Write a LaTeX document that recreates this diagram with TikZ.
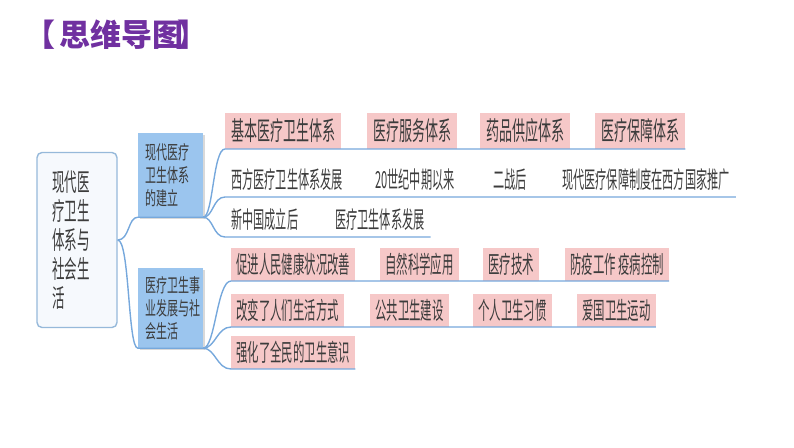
\documentclass[tikz,border=0pt]{standalone}
\usepackage{fontspec}
\newfontfamily\cjkR[FakeStretch=0.50]{Noto Sans CJK SC}
\newfontfamily\cjkP[FakeStretch=0.50]{Noto Sans CJK SC}
\newfontfamily\cjkN[FakeStretch=0.475]{Noto Sans CJK SC}
\newfontfamily\cjkL[FakeStretch=0.58]{Noto Sans CJK SC}
\newfontfamily\cjkT{Noto Sans CJK SC}
\definecolor{titlepurple}{RGB}{112,48,160}
\definecolor{txt}{RGB}{60,60,60}
\definecolor{pinkfill}{RGB}{246,200,200}
\definecolor{lvlfill}{RGB}{155,197,238}
\definecolor{rootfill}{RGB}{246,249,253}
\definecolor{rootdraw}{RGB}{150,185,218}
\definecolor{connc}{RGB}{118,168,220}
\tikzset{
  rootbox/.style={draw=rootdraw, line width=1.4pt, fill=rootfill, rounded corners=5pt,
    minimum width=80pt, minimum height=175pt, text width=50pt, align=left, inner sep=0pt,
    text=txt, font=\cjkR\fontsize{25}{29}\selectfont},
  lvlbox/.style={fill=lvlfill, minimum width=65pt, text width=50pt, align=left, inner sep=0pt,
    text=txt, font=\cjkL\fontsize{19}{23}\selectfont},
  pinkbig/.style={fill=pinkfill, anchor=south west, inner xsep=6pt, inner ysep=0pt, minimum height=36pt,
    text=txt, font=\cjkP\fontsize{26}{26}\selectfont},
  pinksmall/.style={fill=pinkfill, anchor=south west, inner xsep=5pt, inner ysep=0pt, minimum height=33pt,
    text=txt, font=\cjkN\fontsize{24}{24}\selectfont},
  plainitem/.style={anchor=south west, inner xsep=6pt, inner ysep=0pt, minimum height=34pt,
    text=txt, font=\cjkN\fontsize{23.5}{24}\selectfont},
  conn/.style={draw=connc, line width=1.4pt},
}
\begin{document}
\begin{tikzpicture}[x=1pt,y=-1pt]
\useasboundingbox (0,0) rectangle (794,447);
% title
\node[anchor=west, inner sep=0pt, text=titlepurple, font=\cjkT\bfseries\fontsize{31}{31}\selectfont] (title) at (24,35) {【\kern4pt思维导图\kern-6pt】};
% root
\node[rootbox] (root) at (77,240) {现代医\\疗卫生\\体系与\\社会生\\活};
% level 1 boxes
\fill[black!15] (139.5,134.5) rectangle (204.5,218.5);
\fill[black!15] (139.5,269.5) rectangle (204.5,349.5);
\node[lvlbox, minimum height=84pt] (b1) at (170.5,175) {现代医疗\\卫生体系\\的建立};
\node[lvlbox, minimum height=80pt] (b2) at (170.5,308) {医疗卫生事\\业发展与社\\会生活};
% row 1
\node[pinkbig] (r11) at (225,149) {基本医疗卫生体系};
\node[pinkbig] (r12) at (367,149) {医疗服务体系};
\node[pinkbig] (r13) at (480,149) {药品供应体系};
\node[pinkbig] (r14) at (595,149) {医疗保障体系};
% row 2
\node[plainitem] (r21) at (225,197) {西方医疗卫生体系发展};
\node[plainitem] (r22) at (369,197) {20世纪中期以来};
\node[plainitem] (r23) at (487,197) {二战后};
\node[plainitem] (r24) at (556,197) {现代医疗保障制度在西方国家推广};
% row 3
\node[plainitem] (r31) at (225,237) {新中国成立后};
\node[plainitem] (r32) at (329,237) {医疗卫生体系发展};
% row A
\node[pinksmall] (a1) at (231,281) {促进人民健康状况改善};
\node[pinksmall] (a2) at (380,281) {自然科学应用};
\node[pinksmall] (a3) at (483,281) {医疗技术};
\node[pinksmall] (a4) at (565,281) {防疫工作\ 疫病控制};
% row B
\node[pinksmall] (c1) at (231,327) {改变了人们生活方式};
\node[pinksmall] (c2) at (370,327) {公共卫生建设};
\node[pinksmall] (c3) at (473,327) {个人卫生习惯};
\node[pinksmall] (c4) at (577,327) {爱国卫生运动};
% row C
\node[pinksmall] (d1) at (231,369) {强化了全民的卫生意识};
% connectors
\draw[conn] (root.east) .. controls +(12,0) and +(-10,0) .. (b1.south west) -- (b1.south east);
\draw[conn] (root.east) .. controls +(12,0) and +(-10,0) .. (b2.south west) -- (b2.south east);
\draw[conn] (b1.south east) .. controls +(10,0) and +(-12,0) .. (r11.south west) -- (r14.south east);
\draw[conn] (b1.south east) .. controls +(10,0) and +(-12,0) .. (r21.south west) -- (r24.south east);
\draw[conn] (b1.south east) .. controls +(10,0) and +(-12,0) .. (r31.south west) -- (r32.south east);
\draw[conn] (b2.south east) .. controls +(12,0) and +(-14,0) .. (a1.south west) -- (a4.south east);
\draw[conn] (b2.south east) .. controls +(12,0) and +(-14,0) .. (c1.south west) -- (c4.south east);
\draw[conn] (b2.south east) .. controls +(12,0) and +(-14,0) .. (d1.south west) -- (d1.south east);
\end{tikzpicture}
\end{document}
